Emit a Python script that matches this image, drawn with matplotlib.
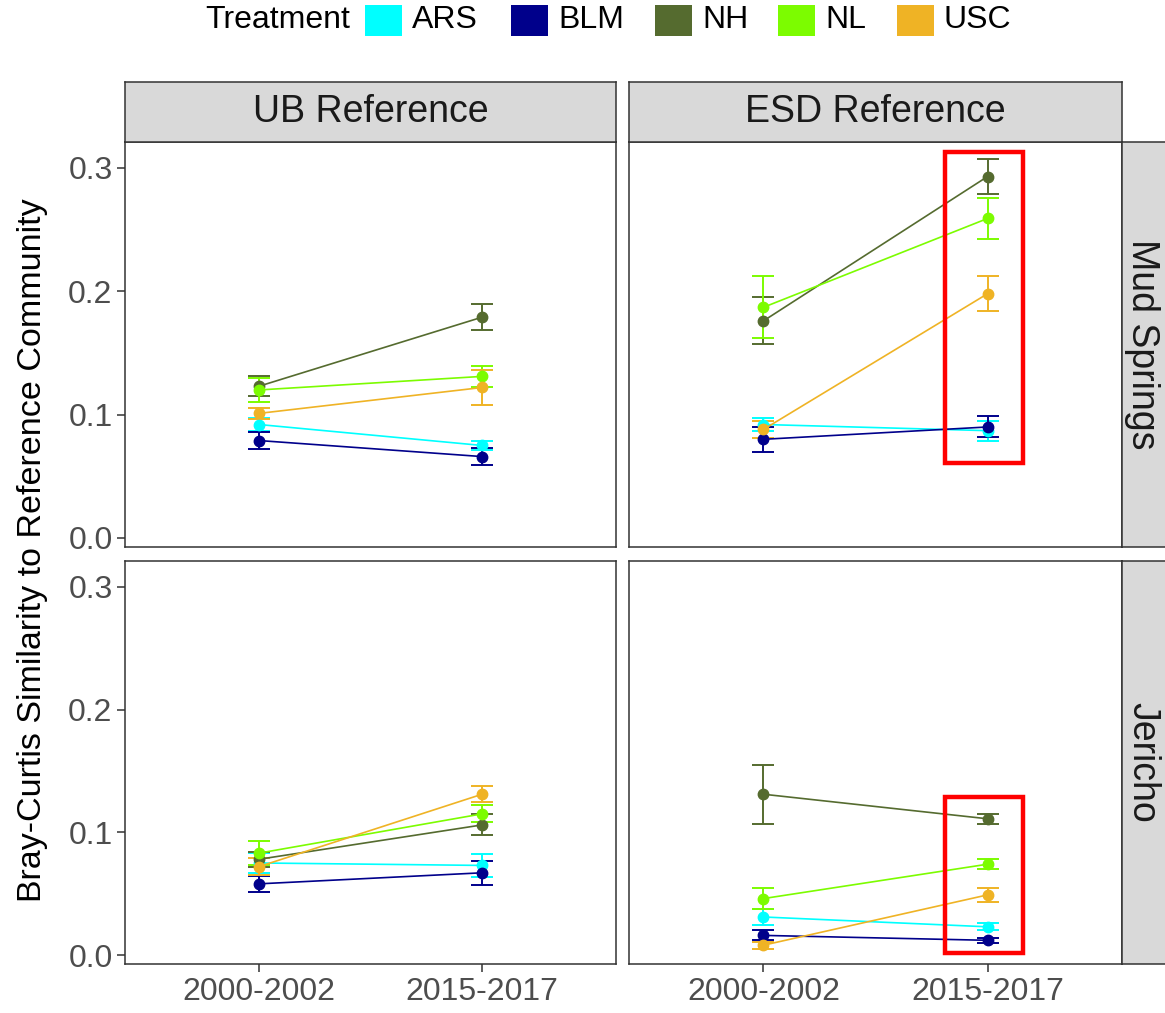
import matplotlib
matplotlib.use("Agg")
import matplotlib.pyplot as plt
from matplotlib.patches import Rectangle

plt.rcParams.update({
    "font.family": ["Liberation Sans", "DejaVu Sans"],
    "axes.linewidth": 1.1,
})

periods = ["2000-2002", "2015-2017"]
treatments = ["ARS", "BLM", "NH", "NL", "USC"]
colors = ["#00FFFF", "#00008B", "#556B2F", "#7CFC00", "#EFB325"]
refs = ["UB Reference", "ESD Reference"]
sites = ["Mud Springs", "Jericho"]

# means / standard errors per treatment (ARS, BLM, NH, NL, USC), two periods each
ub_mud_mean = [[0.092, 0.075], [0.079, 0.066], [0.123, 0.179], [0.120, 0.131], [0.101, 0.122]]
ub_mud_se = [[0.005, 0.004], [0.007, 0.007], [0.008, 0.0105], [0.0095, 0.0085], [0.0045, 0.014]]
esd_mud_mean = [[0.092, 0.087], [0.080, 0.090], [0.176, 0.293], [0.187, 0.259], [0.088, 0.198]]
esd_mud_se = [[0.005, 0.008], [0.010, 0.0085], [0.019, 0.014], [0.025, 0.017], [0.007, 0.014]]
ub_jer_mean = [[0.075, 0.073], [0.058, 0.067], [0.078, 0.106], [0.083, 0.115], [0.072, 0.131]]
ub_jer_se = [[0.008, 0.0097], [0.0065, 0.0097], [0.006, 0.0085], [0.0095, 0.007], [0.007, 0.0065]]
esd_jer_mean = [[0.031, 0.023], [0.016, 0.012], [0.131, 0.111], [0.046, 0.074], [0.008, 0.049]]
esd_jer_se = [[0.0065, 0.003], [0.004, 0.002], [0.024, 0.004], [0.0085, 0.004], [0.003, 0.006]]

panels = [[(ub_mud_mean, ub_mud_se), (esd_mud_mean, esd_mud_se)],
          [(ub_jer_mean, ub_jer_se), (esd_jer_mean, esd_jer_se)]]

W, H = 1165, 1013
fig = plt.figure(figsize=(W / 100, H / 100), dpi=100)


def fx(px):
    return px / W


def fy(py):
    return 1 - py / H


col_x = [(125, 616), (629, 1122)]
row_y = [(142, 547), (561, 964)]
x = [1, 2]
EDGE = "#333333"

axes = {}
for r, (y0, y1) in enumerate(row_y):
    for c, (x0, x1) in enumerate(col_x):
        ax = fig.add_axes([fx(x0), fy(y1), fx(x1 - x0), (y1 - y0) / H])
        means, ses = panels[r][c]
        for i, t in enumerate(treatments):
            ax.errorbar(x, means[i], yerr=ses[i], color=colors[i], marker="o", ms=7.5,
                        lw=1.2, elinewidth=1.4, capsize=8, capthick=1.4, zorder=3)
        ax.set_xlim(0.4, 2.6)
        ax.set_ylim(-0.0073, 0.321)
        ax.set_xticks(x)
        ax.set_yticks([0.0, 0.1, 0.2, 0.3])
        ax.set_yticklabels(["0.0", "0.1", "0.2", "0.3"])
        ax.tick_params(length=6, width=1.1, color=EDGE, labelsize=23, labelcolor="#4D4D4D", pad=3)
        if c == 1:
            ax.tick_params(axis="y", left=False, labelleft=False)
        if r == 0:
            ax.tick_params(axis="x", bottom=False, labelbottom=False)
        else:
            ax.set_xticklabels(periods)
        for s in ax.spines.values():
            s.set_color(EDGE)
        axes[(r, c)] = ax

# top strips
for c, (x0, x1) in enumerate(col_x):
    sax = fig.add_axes([fx(x0), fy(142), fx(x1 - x0), 60 / H])
    sax.set_facecolor("#D9D9D9")
    sax.set_xticks([]); sax.set_yticks([])
    for s in sax.spines.values():
        s.set_color(EDGE)
    sax.text(0.5, 0.5, refs[c], ha="center", va="center", fontsize=27, color="#1A1A1A",
             transform=sax.transAxes)

# right strips (cut off at the figure edge)
for r, (y0, y1) in enumerate(row_y):
    sax = fig.add_axes([fx(1122), fy(y1), fx(60), (y1 - y0) / H])
    sax.set_facecolor("#D9D9D9")
    sax.set_xticks([]); sax.set_yticks([])
    for s in sax.spines.values():
        s.set_color(EDGE)
    fig.text(fx(1142), fy((y0 + y1) / 2), sites[r], rotation=-90, ha="center", va="center",
             fontsize=27, color="#1A1A1A")

# red highlight boxes (ESD Reference, 2015-2017)
for r, (yb, yt) in enumerate([(0.0608, 0.313), (0.0016, 0.129)]):
    ax = axes[(r, 1)]
    ax.add_patch(Rectangle((1.81, yb), 0.348, yt - yb, fill=False, edgecolor="#FF0000",
                           lw=3.2, zorder=5, clip_on=False))

# y label
fig.text(fx(33), fy(550), "Bray-Curtis Similarity to Reference Community", rotation=90,
         ha="center", va="center", fontsize=24.5, color="black")

# legend
yl = fy(20)
fig.text(fx(205), yl, "Treatment", ha="left", va="center", fontsize=23)
key_x = [365, 511, 655, 778, 897]
for i, t in enumerate(treatments):
    fig.patches.append(Rectangle((fx(key_x[i]), fy(36)), fx(37), 31 / H, facecolor=colors[i],
                                 edgecolor="none", transform=fig.transFigure, figure=fig))
    fig.text(fx(key_x[i] + 47), yl, t, ha="left", va="center", fontsize=23)

fig.savefig("out.png", dpi=100)
